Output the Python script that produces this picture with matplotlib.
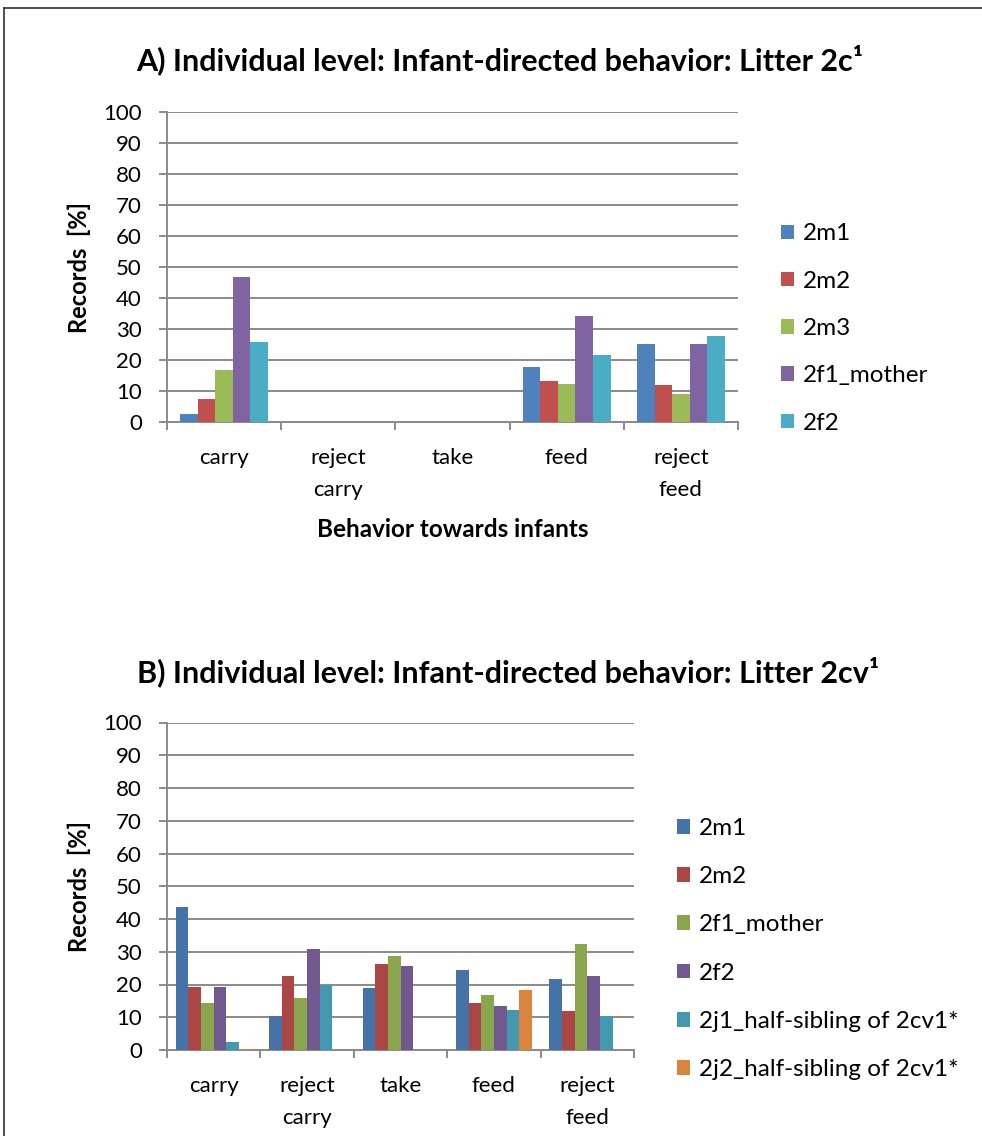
import numpy as np
import matplotlib
matplotlib.use('Agg')
import matplotlib.pyplot as plt
from matplotlib.lines import Line2D

plt.rcParams['font.family'] = ['Lato', 'DejaVu Sans']

categories = ['carry', 'reject\ncarry', 'take', 'feed', 'reject\nfeed']

# Litter 2c
names_a = ['2m1', '2m2', '2m3', '2f1_mother', '2f2']
vals_a = [
    [2.5, 0, 0, 17.8, 25.3],
    [7.3, 0, 0, 13.4, 12.0],
    [16.7, 0, 0, 12.2, 9.0],
    [46.9, 0, 0, 34.4, 25.3],
    [25.8, 0, 0, 21.6, 27.8],
]
colors_a = ['#4F81BD', '#C0504D', '#9BBB59', '#8064A2', '#4BACC6']

# Litter 2cv
names_b = ['2m1', '2m2', '2f1_mother', '2f2',
           '2j1_half-sibling of 2cv1*', '2j2_half-sibling of 2cv1*']
vals_b = [
    [43.8, 10.5, 18.9, 24.3, 21.8],
    [19.2, 22.6, 26.4, 14.3, 12.0],
    [14.5, 16.0, 28.6, 16.8, 32.4],
    [19.2, 30.9, 25.7, 13.5, 22.7],
    [2.4, 19.7, 0, 12.3, 10.5],
    [0.4, 0, 0, 18.2, 0],
]
colors_b = ['#4572A7', '#AA4643', '#89A54E', '#71588F', '#4198AF', '#DB843D']

W, H = 982, 1136
fig = plt.figure(figsize=(W / 100, H / 100), dpi=100)
grid_c = '#8a8a8a'


def px(x0, y0, x1, y1):
    return [x0 / W, 1 - y1 / H, (x1 - x0) / W, (y1 - y0) / H]


def draw(ax, names, vals, colors, group):
    n = len(names)
    bw = group / n
    x = np.arange(len(categories))
    for i in range(n):
        ax.bar(x - group / 2 + bw * (i + 0.5), vals[i], width=bw,
               color=colors[i], label=names[i], zorder=3)
    ax.set_xlim(-0.5, len(categories) - 0.5)
    ax.set_ylim(0, 100)
    ax.set_yticks(np.arange(0, 101, 10))
    ax.yaxis.grid(True, color=grid_c, lw=1.4, zorder=0)
    ax.set_axisbelow(True)
    for s in ['top', 'right']:
        ax.spines[s].set_visible(False)
    for s in ['left', 'bottom']:
        ax.spines[s].set_color(grid_c)
        ax.spines[s].set_linewidth(1.4)
    ax.set_xticks(x)
    ax.set_xticklabels(categories, fontsize=16, linespacing=1.75)
    ax.set_xticks(np.arange(-0.5, len(categories)), minor=True)
    ax.tick_params(axis='x', which='major', length=0, pad=19)
    ax.tick_params(axis='x', which='minor', length=6, width=1.4, color=grid_c)
    ax.tick_params(axis='y', length=6, width=1.4, color=grid_c, pad=12, labelsize=16)
    ax.set_ylabel('Records  [%]', fontsize=17, fontweight='bold', labelpad=9)


ax1 = fig.add_axes(px(167, 112.5, 738, 422))
draw(ax1, names_a, vals_a, colors_a, 0.77)
ax1.set_xlabel('Behavior towards infants', fontsize=17.5, fontweight='bold', labelpad=13)
ax1.legend(loc='center left', bbox_to_anchor=(781 / W, 1 - 328.5 / H),
           bbox_transform=fig.transFigure, frameon=False, fontsize=17.5,
           handlelength=0.55, handleheight=0.55, handletextpad=0.35,
           labelspacing=1.08, borderpad=0, borderaxespad=0)

ax2 = fig.add_axes(px(167, 722.5, 634, 1050))
draw(ax2, names_b, vals_b, colors_b, 0.81)
ax2.legend(loc='center left', bbox_to_anchor=(677 / W, 1 - 949 / H),
           bbox_transform=fig.transFigure, frameon=False, fontsize=17.5,
           handlelength=0.55, handleheight=0.55, handletextpad=0.35,
           labelspacing=1.12, borderpad=0, borderaxespad=0)

fig.text(500 / W, 1 - 60 / H, 'A) Individual level: Infant-directed behavior: Litter 2c¹',
         ha='center', va='center', fontsize=22, fontweight='bold')
fig.text(508 / W, 1 - 672 / H, 'B) Individual level: Infant-directed behavior: Litter 2cv¹',
         ha='center', va='center', fontsize=22, fontweight='bold')

# chart frame
fig.add_artist(Line2D([4 / W, 4 / W], [0, 1 - 8 / H], transform=fig.transFigure,
                      color='#303030', lw=1.2))
fig.add_artist(Line2D([4 / W, 1], [1 - 8 / H, 1 - 8 / H], transform=fig.transFigure,
                      color='#303030', lw=1.2))

fig.savefig('out.png', dpi=100)
